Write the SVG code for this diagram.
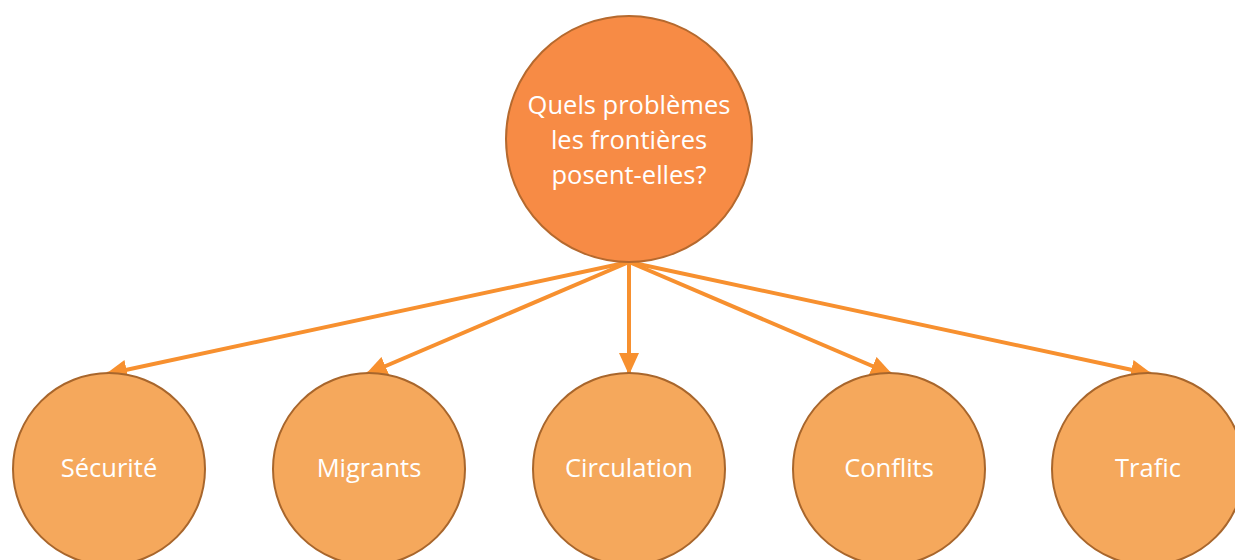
<svg xmlns="http://www.w3.org/2000/svg" width="1235" height="560" viewBox="0 0 1235 560">
<style>
.top{fill:#f78b45;stroke:#b5692e;stroke-width:2}
.sub{fill:#f5a85c;stroke:#a8662c;stroke-width:2}
.lbl{font-family:"Open Sans",sans-serif;font-size:25.5px;font-weight:500;fill:#ffffff;text-anchor:middle}
.edge{stroke:#f7902f;stroke-width:4;fill:none;marker-end:url(#ah)}
</style>
<defs>
<marker id="ah" markerWidth="5.5" markerHeight="5" refX="5" refY="2.5" orient="auto" markerUnits="strokeWidth">
<path d="M0,0 L5.5,2.5 L0,5 Z" fill="#f7902f"/>
</marker>
</defs>
<rect width="1235" height="560" fill="#ffffff"/>
<g id="connectors">
<line class="edge" x1="629" y1="262" x2="107" y2="374"/>
<line class="edge" x1="629" y1="262" x2="367" y2="374"/>
<line class="edge" x1="629" y1="262" x2="629" y2="373"/>
<line class="edge" x1="629" y1="262" x2="891" y2="374"/>
<line class="edge" x1="629" y1="262" x2="1151" y2="374"/>
</g>
<g id="root">
<circle class="top" cx="629" cy="139" r="123"/>
<text class="lbl" x="629" y="114">Quels problèmes</text>
<text class="lbl" x="629" y="149">les frontières</text>
<text class="lbl" x="629" y="184">posent-elles?</text>
</g>
<g id="securite">
<circle class="sub" cx="109" cy="469" r="96"/>
<text class="lbl" x="109" y="477">Sécurité</text>
</g>
<g id="migrants">
<circle class="sub" cx="369" cy="469" r="96"/>
<text class="lbl" x="369" y="477">Migrants</text>
</g>
<g id="circulation">
<circle class="sub" cx="629" cy="469" r="96"/>
<text class="lbl" x="629" y="477">Circulation</text>
</g>
<g id="conflits">
<circle class="sub" cx="889" cy="469" r="96"/>
<text class="lbl" x="889" y="477">Conflits</text>
</g>
<g id="trafic">
<circle class="sub" cx="1148" cy="469" r="96"/>
<text class="lbl" x="1148" y="477">Trafic</text>
</g>
</svg>
